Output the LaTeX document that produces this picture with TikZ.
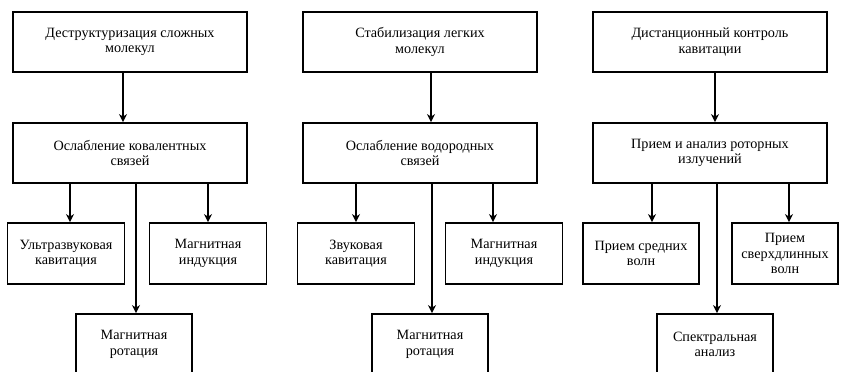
\documentclass[tikz,border=0pt]{standalone}
\usepackage{fontspec}
\setmainfont{Liberation Serif}
\usetikzlibrary{arrows.meta}
\begin{document}
\begin{tikzpicture}[x=1pt,y=-1pt,
  box/.style={draw, line width=1.8pt, align=center, font=\fontsize{14.2}{15.5}\selectfont, inner sep=0pt, minimum height=60pt},
  big/.style={box, minimum width=234pt},
  small/.style={box, minimum width=117pt, minimum height=61pt},
  arr/.style={line width=1.8pt, -{Stealth[length=8pt,width=8pt,inset=2.5pt]}}]
\useasboundingbox (0,0) rectangle (841,372);
\clip (0,0) rectangle (841,372);
% column 1
\node[big] (t1) at (130,42) {Деструктуризация сложных\\молекул};
\node[big] (p1) at (130,153) {Ослабление ковалентных\\связей};
\node[small] (c1a) at (66,253.5) {Ультразвуковая\\кавитация};
\node[small] (c1b) at (208,253.5) {Магнитная\\индукция};
\node[small, minimum width=116pt] (c1c) at (134,344.5) {Магнитная\\ротация};
% column 2
\node[big] (t2) at (420,42) {Стабилизация легких\\молекул};
\node[big] (p2) at (420,153) {Ослабление водородных\\связей};
\node[small] (c2a) at (356,253.5) {Звуковая\\кавитация};
\node[small] (c2b) at (504,253.5) {Магнитная\\индукция};
\node[small, minimum width=116pt] (c2c) at (430,344.5) {Магнитная\\ротация};
% column 3
\node[big] (t3) at (710,42) {Дистанционный контроль\\кавитации};
\node[big] (p3) at (710,153) {Прием и анализ роторных\\излучений};
\node[small, minimum width=116pt] (c3a) at (641,253.5) {Прием средних\\волн};
\node[small, minimum width=106pt] (c3b) at (785,253.5) {Прием\\сверхдлинных\\волн};
\node[small, minimum width=116pt] (c3c) at (715,344.5) {Спектральная\\анализ};
% arrow x positions
\coordinate (x1) at (123,0);
\coordinate (x1a) at (70,0);
\coordinate (x1b) at (208,0);
\coordinate (x1c) at (136,0);
\coordinate (x2) at (431,0);
\coordinate (x2a) at (356,0);
\coordinate (x2b) at (493,0);
\coordinate (x2c) at (432,0);
\coordinate (x3) at (715,0);
\coordinate (x3a) at (652,0);
\coordinate (x3b) at (789,0);
\coordinate (x3c) at (717,0);
% arrows
\draw[arr] (t1.south -| x1) -- (p1.north -| x1);
\draw[arr] (p1.south -| x1a) -- (c1a.north -| x1a);
\draw[arr] (p1.south -| x1b) -- (c1b.north -| x1b);
\draw[arr] (p1.south -| x1c) -- (c1c.north -| x1c);
\draw[arr] (t2.south -| x2) -- (p2.north -| x2);
\draw[arr] (p2.south -| x2a) -- (c2a.north -| x2a);
\draw[arr] (p2.south -| x2b) -- (c2b.north -| x2b);
\draw[arr] (p2.south -| x2c) -- (c2c.north -| x2c);
\draw[arr] (t3.south -| x3) -- (p3.north -| x3);
\draw[arr] (p3.south -| x3a) -- (c3a.north -| x3a);
\draw[arr] (p3.south -| x3b) -- (c3b.north -| x3b);
\draw[arr] (p3.south -| x3c) -- (c3c.north -| x3c);
\end{tikzpicture}
\end{document}
